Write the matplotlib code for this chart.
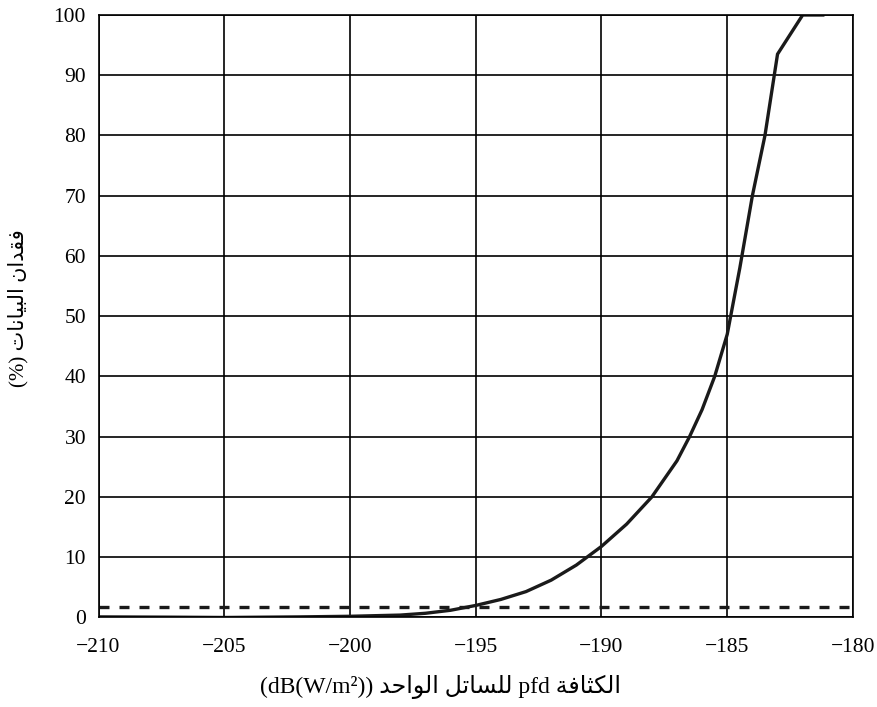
import matplotlib
matplotlib.use("Agg")
from matplotlib import pyplot as plt

# curve
pfd = [-210, -207, -205, -202, -200, -198, -197, -196, -195, -194, -193, -192,
       -191, -190, -189, -188, -187, -186.5, -186, -185.5, -185, -184.5, -184,
       -183.5, -183, -182, -181.2]
loss = [0.1, 0.05, 0.0, 0.1, 0.2, 0.4, 0.7, 1.2, 2.0, 3.0, 4.3, 6.2,
        8.7, 11.8, 15.5, 20, 26, 30, 34.5, 40, 47, 58, 70,
        80, 93.5, 100, 100]
threshold = 1.8

x_ticks = [-210, -205, -200, -195, -190, -185, -180]
y_ticks = [0, 10, 20, 30, 40, 50, 60, 70, 80, 90, 100]


def vis(*codes):
    # Arabic presentation forms, already in visual (left-to-right) order
    return "".join(chr(c) for c in codes)


fuqdan = vis(0xFEE5, 0xFE8D, 0xFEAA, 0xFED8, 0xFED3)
bayanat = vis(0xFE95, 0xFE8E, 0xFEE7, 0xFE8E, 0xFEF4, 0xFE92, 0xFEDF, 0xFE8D)
kathafa = vis(0xFE94, 0xFED3, 0xFE8E, 0xFE9C, 0xFEDC, 0xFEDF, 0xFE8D)
lilsatil = vis(0xFEDE, 0xFE97, 0xFE8E, 0xFEB4, 0xFEE0, 0xFEDF)
wahid = vis(0xFEAA, 0xFEA3, 0xFE8D, 0xFEEE, 0xFEDF, 0xFE8D)

y_label = "(%) " + bayanat + " " + fuqdan
x_label = "(dB(W/m\u00b2)) " + wahid + " " + lilsatil + " pfd " + kathafa

plt.rcParams["font.family"] = ["Liberation Serif", "DejaVu Sans"]

fig = plt.figure(figsize=(8.78, 7.07), dpi=100)
ax = fig.add_axes([0.1122, 0.1266, 0.8593, 0.8522])

ax.plot(pfd, loss, color="#1a1a1a", linewidth=2.4, solid_joinstyle="miter")
ax.axhline(threshold, color="#1a1a1a", linewidth=2.4, linestyle=(0, (3, 3)))

ax.set_xlim(-210, -180)
ax.set_ylim(0, 100)
ax.set_xticks(x_ticks)
ax.set_yticks(y_ticks)
ax.set_xticklabels([f"\u2212{abs(v)}" for v in x_ticks])
ax.set_yticklabels([str(v) for v in y_ticks])
ax.tick_params(length=0, labelsize=15.5, colors="black")
ax.tick_params(axis="x", pad=15)
ax.tick_params(axis="y", pad=9)
ax.grid(True, color="black", linewidth=1.2)
for s in ax.spines.values():
    s.set_linewidth(1.2)
    s.set_color("black")

fig.text(440 / 878, 1 - 687 / 707, x_label, ha="center", va="center", fontsize=17)
fig.text(18 / 878, 1 - 308 / 707, y_label, ha="center", va="center",
         rotation=90, fontsize=15)

fig.savefig("out.png", dpi=100)
